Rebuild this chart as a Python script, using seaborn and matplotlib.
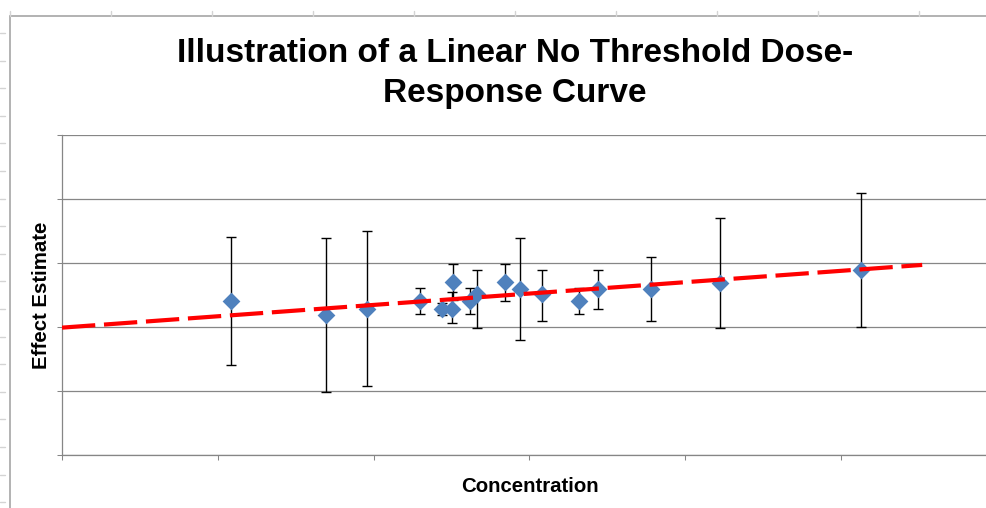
import matplotlib
matplotlib.use("Agg")
import matplotlib.pyplot as plt
from matplotlib.lines import Line2D
import seaborn as sns
import pandas as pd

# values (x in tick units, y in gridline units)
concentration = [1.083, 1.697, 1.957, 2.30, 2.44, 2.50, 2.51, 2.62, 2.66,
                 2.84, 2.94, 3.08, 3.32, 3.44, 3.78, 4.22, 5.13]
effect = [2.40, 2.18, 2.28, 2.41, 2.28, 2.28, 2.70, 2.41, 2.51,
          2.70, 2.60, 2.51, 2.41, 2.59, 2.60, 2.69, 2.89]
err_low = [1.00, 1.20, 1.20, 0.20, 0.09, 0.22, 0.28, 0.20, 0.52,
           0.29, 0.80, 0.42, 0.20, 0.31, 0.51, 0.71, 0.89]
err_high = [1.00, 1.21, 1.22, 0.20, 0.10, 0.26, 0.28, 0.20, 0.38,
            0.28, 0.79, 0.38, 0.20, 0.30, 0.49, 1.01, 1.20]
trend_x = [0.0, 5.52]
trend_y = [1.99, 2.97]

df = pd.DataFrame({"Concentration": concentration, "Effect Estimate": effect})
trend = pd.DataFrame({"x": trend_x, "y": trend_y})

sns.set_style("white")
plt.rcParams["font.family"] = ["Liberation Sans", "DejaVu Sans"]
plt.rcParams["text.color"] = "black"
plt.rcParams["axes.labelcolor"] = "black"

W, H = 987, 508
fig = plt.figure(figsize=(W / 100, H / 100), dpi=100)

# spreadsheet frame behind the chart
frame_col = "#a6a6a6"
fig.add_artist(Line2D([10 / W, 10 / W], [0, 1 - 16 / H], color=frame_col, lw=1.2))
fig.add_artist(Line2D([10 / W, 1], [1 - 16 / H, 1 - 16 / H], color=frame_col, lw=1.2))
for i in range(10):
    cx = (10 + 101 * i) / W
    fig.add_artist(Line2D([cx, cx], [1 - 11 / H, 1 - 16 / H], color="#d4d4d4", lw=1))
for i in range(18):
    ry = 1 - (33 + 27.6 * i) / H
    fig.add_artist(Line2D([0, 5 / W], [ry, ry], color="#d4d4d4", lw=1))

ax = fig.add_axes([62 / W, 53 / H, 935 / W, 320 / H])

grid_col = "#868686"
ax.errorbar(concentration, effect, yerr=[err_low, err_high], fmt="none",
            ecolor="black", elinewidth=1.0, capsize=3.3, capthick=1.0, zorder=2)
sns.scatterplot(data=df, x="Concentration", y="Effect Estimate", ax=ax,
                marker="D", s=82, color="#4f81bd", linewidth=0, zorder=3)
sns.lineplot(data=trend, x="x", y="y", ax=ax, color="#ff0000", lw=3.0,
             dashes=False, zorder=4).lines[-1].set_dashes((8.0, 2.1))

ax.set_xlim(0, 6)
ax.set_ylim(0, 5)
ax.set_xticks(range(7))
ax.set_yticks(range(6))
ax.set_xticklabels([])
ax.set_yticklabels([])
ax.tick_params(axis="both", direction="out", length=3.6, width=0.75,
               color=grid_col, bottom=True, left=True)
ax.yaxis.grid(True, color=grid_col, lw=0.9)
ax.xaxis.grid(False)
ax.set_axisbelow(True)
for side in ["top", "right"]:
    ax.spines[side].set_visible(False)
for side in ["left", "bottom"]:
    ax.spines[side].set_color(grid_col)
    ax.spines[side].set_linewidth(0.9)

ax.set_xlabel("Concentration", fontsize=14.7, fontweight="bold")
ax.set_ylabel("Effect Estimate", fontsize=14.7, fontweight="bold")
ax.xaxis.set_label_coords(0.5, -22 / 320)
ax.yaxis.set_label_coords(-11 / 935, 0.5)

fig.text(515 / W, 1 - 38 / H,
         "Illustration of a Linear No Threshold Dose-\nResponse Curve",
         ha="center", va="top", fontsize=24, fontweight="bold",
         linespacing=1.38)

fig.savefig("out.png", dpi=100)
